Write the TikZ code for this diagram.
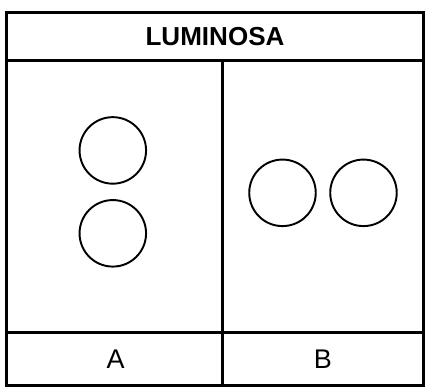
\documentclass[tikz,border=0pt]{standalone}
\usepackage{fontspec}
\setmainfont{Liberation Sans}

\tikzset{
  lamp/.style={draw,circle,line width=2pt,minimum size=69pt,inner sep=0pt},
  rule/.style={line width=3pt}
}

\begin{document}
\begin{tikzpicture}[x=1pt,y=-1pt]
\useasboundingbox (0,0) rectangle (446,405);

\path[draw,rule]% table frame
(7,13) rectangle (439,400);
\path[draw,rule]% title row
(7,63)--(439,63);
\path[draw,rule]% label row
(7,345)--(439,345);
\path[draw,rule]% middle
(231,63)--(231,400);

\node[lamp] (a1) at (117,156) {};
\node[lamp] (a2) at (117,242) {};
\node[lamp] (b1) at (293,200) {};
\node[lamp] (b2) at (377,200) {};

\node (title) at (223,38)  {\fontsize{27}{32}\selectfont\bfseries LUMINOSA};
\node (la)    at (120,373) {\fontsize{28}{32}\selectfont A};
\node (lb)    at (335,373) {\fontsize{28}{32}\selectfont B};

\end{tikzpicture}
\end{document}
